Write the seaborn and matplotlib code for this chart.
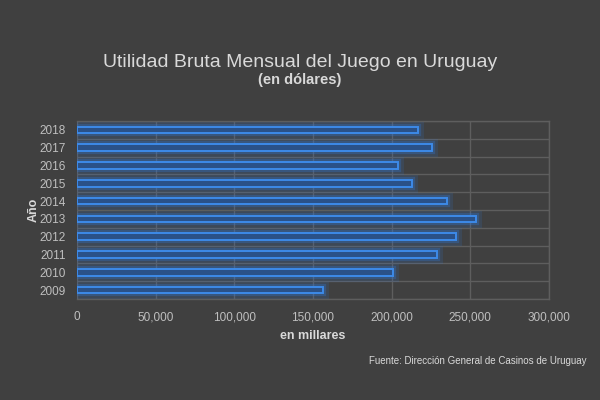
import matplotlib
matplotlib.use("Agg")
import matplotlib.pyplot as plt
import matplotlib.patheffects as pe
from matplotlib.ticker import FuncFormatter, FixedLocator
import seaborn as sns
import pandas as pd

years = ["2018", "2017", "2016", "2015", "2014", "2013", "2012", "2011", "2010", "2009"]
values = [216500, 225800, 204000, 212700, 235000, 253800, 241000, 228600, 200600, 156500]

title = "Utilidad Bruta Mensual del Juego en Uruguay"
subtitle = "(en dólares)"
xlabel = "en millares"
ylabel = "Año"
source = "Fuente: Dirección General de Casinos de Uruguay"

BG = "#404040"
GRID = "#5e5e5e"
TXT = "#d9d9d9"
TICK = "#bfbfbf"

sns.set_style("dark")
plt.rcParams["font.family"] = ["Liberation Sans", "DejaVu Sans"]

df = pd.DataFrame({"year": years, "value": values})

fig = plt.figure(figsize=(6, 4), dpi=100, facecolor=BG)
ax = fig.add_axes([0.128, 0.2525, 0.787, 0.445])
ax.set_facecolor(BG)

sns.barplot(data=df, y="year", x="value", order=years, orient="h", ax=ax,
            color="#2a5188", edgecolor="#3d8ae8", linewidth=1.4, width=0.38,
            saturation=1, zorder=3)
for p in ax.patches:
    p.set_path_effects([pe.Stroke(linewidth=8, foreground="#2f78d8", alpha=0.15),
                        pe.Stroke(linewidth=4.5, foreground="#2f78d8", alpha=0.3),
                        pe.Normal()])

ax.set_xlim(0, 300000)
ax.set_ylim(len(years) - 0.5, -0.5)
ax.set_xticks([0, 50000, 100000, 150000, 200000, 250000, 300000])
ax.xaxis.set_major_formatter(FuncFormatter(lambda v, _: f"{int(v):,}"))
ax.yaxis.set_minor_locator(FixedLocator([i - 0.5 for i in range(len(years) + 1)]))
ax.grid(True, axis="x", which="major", color=GRID, linewidth=1, zorder=0)
ax.grid(True, axis="y", which="minor", color=GRID, linewidth=1, zorder=0)
ax.grid(False, axis="y", which="major")
ax.set_axisbelow(True)
for s in ax.spines.values():
    s.set_visible(True)
    s.set_color(GRID)
    s.set_linewidth(1)
ax.spines["left"].set_visible(False)

ax.tick_params(axis="both", which="both", length=0, colors=TICK, labelsize=8.5)
ax.tick_params(axis="x", pad=9)
ax.tick_params(axis="y", pad=8)

ax.set_xlabel(xlabel, color=TXT, fontsize=9, fontweight="bold", labelpad=5)
ax.set_ylabel(ylabel, color=TXT, fontsize=9, fontweight="bold", labelpad=0)

fig.text(0.5, 0.843, title, ha="center", va="center", color=TXT, fontsize=14)
fig.text(0.5, 0.80, subtitle, ha="center", va="center", color=TXT, fontsize=10.5, fontweight="bold")
fig.text(0.978, 0.098, source, ha="right", va="center", color=TXT, fontsize=7)

fig.savefig("out.png", dpi=100, facecolor=BG)
